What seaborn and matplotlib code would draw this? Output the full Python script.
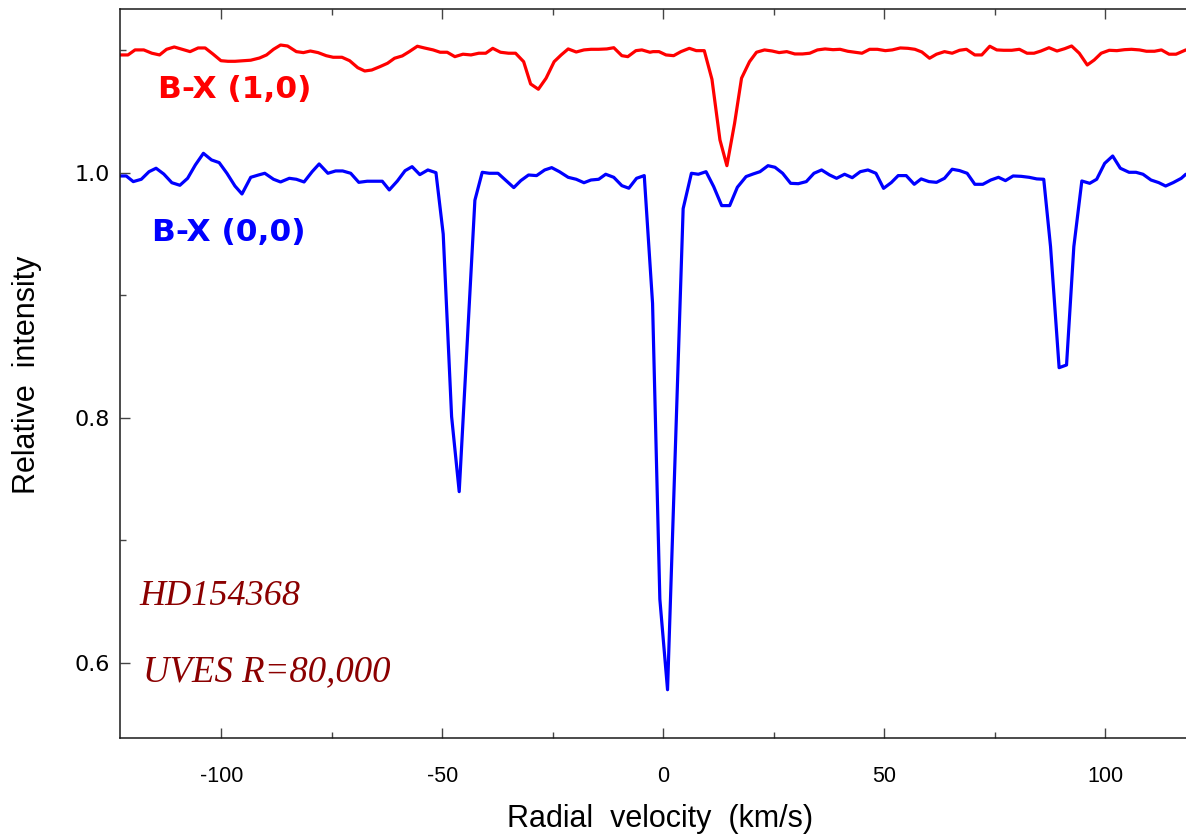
import matplotlib
matplotlib.use("Agg")
import matplotlib.pyplot as plt
import seaborn as sns
import pandas as pd
from matplotlib.ticker import FixedLocator, FormatStrFormatter

# ---------------- data ----------------
red_velocity = [
    -122.84, -121.09, -119.50, -117.52, -115.69, -113.95, -112.36, -110.62, -108.79, -107.04,
    -105.22, -103.63, -101.89, -100.06, -98.47, -96.89, -94.90, -93.32, -91.33, -89.74,
    -88.16, -86.57, -84.98, -83.00, -81.41, -79.82, -78.08, -76.25, -74.67, -72.68,
    -70.94, -69.11, -67.52, -65.94, -64.11, -62.37, -60.78, -59.03, -57.45, -55.62,
    -54.03, -52.05, -50.46, -48.87, -47.13, -45.30, -43.48, -41.73, -40.14, -38.56,
    -36.81, -34.99, -33.40, -31.57, -29.99, -28.24, -26.49, -24.67, -23.08, -21.49,
    -19.67, -17.92, -16.33, -14.59, -12.76, -11.17, -9.35, -8.00, -6.17, -4.82,
    -3.00, -2.28, -0.94, 0.64, 2.37, 4.03, 5.92, 7.49, 9.30, 11.04,
    12.85, 14.42, 16.16, 17.73, 19.54, 21.12, 22.93, 24.66, 26.24, 27.97,
    29.79, 31.52, 33.17, 34.91, 36.64, 38.45, 40.03, 41.76, 43.41, 44.99,
    46.72, 48.46, 50.27, 51.84, 53.66, 55.39, 56.96, 58.54, 60.27, 61.85,
    63.66, 65.39, 67.05, 68.62, 70.52, 72.09, 73.90, 75.48, 77.05, 78.87,
    80.60, 82.33, 83.91, 85.48, 87.30, 89.11, 90.84, 92.42, 94.15, 95.96,
    97.54, 99.11, 100.93, 102.66, 104.39, 105.97, 107.78, 109.35, 111.17, 112.74,
    114.47, 116.05, 118.26,
]
red_intensity = [
    1.0961, 1.0961, 1.1002, 1.1002, 1.0975, 1.0961, 1.1007, 1.1026, 1.1007, 1.0988,
    1.1018, 1.1018, 1.0969, 1.0914, 1.0909, 1.0909, 1.0914, 1.0918, 1.0936, 1.0961,
    1.1007, 1.1042, 1.1034, 1.0988, 1.0980, 1.0993, 1.0980, 1.0955, 1.0942, 1.0942,
    1.0914, 1.0857, 1.0830, 1.0838, 1.0865, 1.0893, 1.0934, 1.0953, 1.0988, 1.1032,
    1.1018, 1.1002, 1.0983, 1.0983, 1.0947, 1.0967, 1.0961, 1.0975, 1.0975, 1.1015,
    1.0983, 1.0975, 1.0975, 1.0906, 1.0724, 1.0681, 1.0771, 1.0906, 1.0961, 1.1010,
    1.0985, 1.1002, 1.1007, 1.1007, 1.1010, 1.1020, 1.0955, 1.0947, 1.0996, 1.1002,
    1.0983, 1.0988, 1.0988, 1.0961, 1.0955, 1.0988, 1.1015, 1.0996, 1.0996, 1.0762,
    1.0267, 1.0057, 1.0403, 1.0771, 1.0906, 1.0983, 1.1002, 1.0993, 1.0980, 1.0988,
    1.0969, 1.0969, 1.0975, 1.1002, 1.1010, 1.1004, 1.1007, 1.0991, 1.0983, 1.0975,
    1.1007, 1.1007, 1.0996, 1.1002, 1.1018, 1.1015, 1.1007, 1.0985, 1.0934, 1.0967,
    1.0988, 1.0975, 1.0999, 1.1007, 1.0961, 1.0961, 1.1032, 1.1002, 1.0999, 1.0999,
    1.1007, 1.0975, 1.0975, 1.0993, 1.1020, 1.0993, 1.1012, 1.1034, 1.0975, 1.0879,
    1.0920, 1.0975, 1.0999, 1.0996, 1.1004, 1.1007, 1.1002, 1.0991, 1.0991, 1.1002,
    1.0967, 1.0967, 1.1002,
]

blue_velocity = [
    -122.84, -121.49, -119.90, -118.08, -116.33, -114.74, -113.00, -111.17, -109.35, -107.60,
    -105.85, -104.03, -102.20, -100.46, -98.71, -96.89, -95.30, -93.32, -91.57, -90.14,
    -88.16, -86.57, -84.59, -83.00, -81.25, -79.43, -77.84, -75.86, -74.11, -72.52,
    -70.70, -68.87, -66.97, -65.14, -63.56, -61.97, -60.14, -58.40, -56.81, -55.06,
    -53.24, -51.41, -49.77, -47.87, -46.15, -44.37, -42.60, -40.94, -39.35, -37.37,
    -35.54, -33.80, -32.21, -30.46, -28.64, -26.81, -25.22, -23.48, -21.49, -19.67,
    -17.92, -16.34, -14.59, -13.00, -11.18, -9.35, -7.77, -6.02, -4.28, -2.40,
    -0.75, 0.99, 4.52, 6.39, 7.96, 9.70, 11.43, 13.24, 15.05, 16.79,
    18.76, 20.33, 21.91, 23.72, 25.30, 27.03, 28.84, 30.57, 32.39, 34.12,
    35.85, 37.66, 39.24, 41.05, 42.78, 44.60, 46.33, 48.14, 49.87, 51.61,
    53.18, 54.99, 56.81, 58.38, 60.12, 61.85, 63.66, 65.39, 67.05, 68.78,
    70.52, 72.33, 74.14, 75.87, 77.45, 79.18, 81.00, 82.81, 84.54, 86.11,
    87.65, 89.59, 91.27, 92.92, 94.73, 96.51, 98.09, 99.90, 101.71, 103.44,
    105.41, 106.99, 108.57, 110.38, 112.11, 113.69, 115.42, 117.23, 118.26,
]
blue_intensity = [
    0.9973, 0.9973, 0.9927, 0.9946, 1.0008, 1.0036, 0.9989, 0.9918, 0.9897, 0.9954,
    1.0063, 1.0158, 1.0104, 1.0082, 0.9995, 0.9891, 0.9826, 0.9962, 0.9981, 0.9995,
    0.9946, 0.9924, 0.9954, 0.9946, 0.9924, 1.0008, 1.0071, 0.9995, 1.0014, 1.0014,
    0.9995, 0.9921, 0.9930, 0.9930, 0.9930, 0.9859, 0.9932, 1.0016, 1.0049, 0.9984,
    1.0022, 1.0000, 0.9499, 0.8009, 0.7396, 0.8585, 0.9775, 1.0003, 0.9995, 0.9995,
    0.9935, 0.9878, 0.9935, 0.9981, 0.9976, 1.0022, 1.0041, 1.0008, 0.9962, 0.9946,
    0.9918, 0.9940, 0.9946, 0.9987, 0.9962, 0.9894, 0.9873, 0.9954, 0.9976, 0.8933,
    0.6518, 0.5779, 0.9706, 0.9995, 0.9987, 1.0008, 0.9886, 0.9731, 0.9731, 0.9881,
    0.9968, 0.9989, 1.0008, 1.0057, 1.0044, 0.9995, 0.9913, 0.9910, 0.9927, 0.9995,
    1.0022, 0.9981, 0.9954, 0.9987, 0.9959, 1.0008, 1.0022, 0.9995, 0.9872, 0.9919,
    0.9976, 0.9976, 0.9905, 0.9949, 0.9927, 0.9921, 0.9954, 1.0028, 1.0017, 0.9995,
    0.9905, 0.9905, 0.9940, 0.9962, 0.9935, 0.9973, 0.9970, 0.9962, 0.9949, 0.9946,
    0.9396, 0.8408, 0.8430, 0.9396, 0.9932, 0.9913, 0.9946, 1.0076, 1.0136, 1.0036,
    1.0003, 1.0003, 0.9987, 0.9940, 0.9919, 0.9891, 0.9919, 0.9954, 0.9987,
]

series_labels = ["B-X (1,0)", "B-X (0,0)"]
series_colors = ["#ff0000", "#0000ff"]
x_ticks = [-100, -50, 0, 50, 100]
x_minor = [-75, -25, 25, 75]
y_ticks = [0.6, 0.8, 1.0]
y_minor = [0.7, 0.9, 1.1]
annot_lines = ["HD154368", "UVES R=80,000"]

# ---------------- figure ----------------
sns.set_theme(style="ticks")
plt.rcParams["font.family"] = ["DejaVu Sans"]
plt.rcParams["axes.unicode_minus"] = False

fig = plt.figure(figsize=(11.86, 8.36), dpi=100)
ax = fig.add_axes([120 / 1186, 1 - 738 / 836, 1066 / 1186, 729 / 836])

df_red = pd.DataFrame({"v": red_velocity, "I": red_intensity})
df_blue = pd.DataFrame({"v": blue_velocity, "I": blue_intensity})
sns.lineplot(data=df_red, x="v", y="I", ax=ax, color=series_colors[0], lw=2.3,
             sort=False, estimator=None)
sns.lineplot(data=df_blue, x="v", y="I", ax=ax, color=series_colors[1], lw=2.3,
             sort=False, estimator=None)

ax.set_xlim(-122.9, 118.3)
ax.set_ylim(0.5385, 1.1336)

ax.xaxis.set_major_locator(FixedLocator(x_ticks))
ax.xaxis.set_minor_locator(FixedLocator(x_minor))
ax.yaxis.set_major_locator(FixedLocator(y_ticks))
ax.yaxis.set_minor_locator(FixedLocator(y_minor))
ax.yaxis.set_major_formatter(FormatStrFormatter("%.1f"))

for s in ["left", "bottom", "top"]:
    ax.spines[s].set_visible(True)
    ax.spines[s].set_color("#1a1a1a")
    ax.spines[s].set_linewidth(1.1)
ax.spines["right"].set_visible(False)

ax.tick_params(axis="x", which="both", direction="in", top=True, bottom=True,
               color="#444444", width=1.0)
ax.tick_params(axis="x", which="major", length=7, pad=20, labelsize=15.5,
               labelcolor="black")
ax.tick_params(axis="x", which="minor", length=4)
ax.tick_params(axis="y", which="both", direction="in", left=True, right=False,
               color="#444444", width=1.0)
ax.tick_params(axis="y", which="major", length=7, pad=7, labelsize=16,
               labelcolor="black")
ax.tick_params(axis="y", which="minor", length=4)
for lab in ax.get_xticklabels():
    lab.set_fontfamily("Liberation Sans")
for lab in ax.get_yticklabels():
    lab.set_fontfamily("DejaVu Sans")

ax.set_xlabel("Radial  velocity  (km/s)", fontsize=22, family="Liberation Sans",
              color="black")
ax.set_ylabel("Relative  intensity", fontsize=22, family="Liberation Sans",
              color="black")
ax.xaxis.set_label_coords(0.5066, -0.091)
ax.yaxis.set_label_coords(-0.0732, 0.498)

ax.text(-114.3, 1.0675, series_labels[0], color=series_colors[0], fontsize=22.5,
        fontweight="bold", family="DejaVu Sans", va="center", ha="left")
ax.text(-115.7, 0.951, series_labels[1], color=series_colors[1], fontsize=22.5,
        fontweight="bold", family="DejaVu Sans", va="center", ha="left")

ax.text(-118.4, 0.647, annot_lines[0], color="#8b0000", fontsize=26,
        style="italic", family="Liberation Serif", va="baseline", ha="left")
ax.text(-117.7, 0.5845, annot_lines[1], color="#8b0000", fontsize=26.5,
        style="italic", family="Liberation Serif", va="baseline", ha="left")

fig.savefig("out.png", dpi=100)
